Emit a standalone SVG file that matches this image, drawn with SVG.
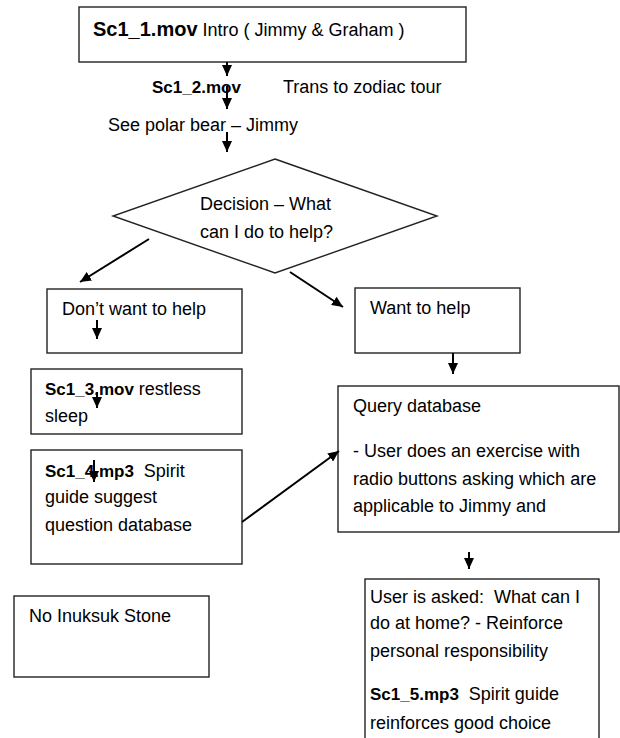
<svg xmlns="http://www.w3.org/2000/svg" width="620" height="738" viewBox="0 0 620 738">
<style>
.box{fill:#fff;stroke:#222;stroke-width:1.4}
.t{font-family:"Liberation Sans",Arial,sans-serif;font-size:18px;fill:#000;white-space:pre}
.b{font-weight:bold}
.c{fill:none;stroke:#000;stroke-width:2}
</style>
<defs>
<marker id="ah" markerUnits="userSpaceOnUse" markerWidth="11" markerHeight="10" refX="11" refY="5" orient="auto">
<path d="M0,0 L11,5 L0,10 z" fill="#000"/>
</marker>
</defs>
<rect width="620" height="738" fill="#fff"/>
<g id="n1">
<rect class="box" x="79" y="7" width="387" height="55"/>
<text class="t" x="93" y="36"><tspan class="b" font-size="20">Sc1_1.mov</tspan> Intro ( Jimmy &amp; Graham )</text>
</g>
<g id="n2">
<text class="t" x="152" y="93"><tspan class="b" font-size="17">Sc1_2.mov</tspan></text>
<text class="t" x="283" y="93">Trans to zodiac tour</text>
</g>
<g id="n3">
<text class="t" x="108" y="131">See polar bear – Jimmy</text>
</g>
<g id="n4">
<polygon class="box" points="275,159 437,216 275,273 113,216"/>
<text class="t" x="200" y="210">Decision – What</text>
<text class="t" x="200" y="238">can I do to help?</text>
</g>
<g id="n5">
<rect class="box" x="47" y="289" width="195" height="64"/>
<text class="t" x="62" y="315">Don’t want to help</text>
</g>
<g id="n6">
<rect class="box" x="355" y="288" width="165" height="65"/>
<text class="t" x="370" y="314">Want to help</text>
</g>
<g id="n7">
<rect class="box" x="31" y="369" width="211" height="65"/>
<text class="t" x="45" y="395"><tspan class="b" font-size="17">Sc1_3.mov</tspan> restless</text>
<text class="t" x="45" y="422">sleep</text>
</g>
<g id="n8">
<rect class="box" x="31" y="450" width="211" height="114"/>
<text class="t" x="45" y="477"><tspan class="b" font-size="17">Sc1_4.mp3</tspan>  Spirit</text>
<text class="t" x="45" y="503">guide suggest</text>
<text class="t" x="45" y="531">question database</text>
</g>
<g id="n9">
<rect class="box" x="338" y="386" width="281" height="146"/>
<text class="t" x="353" y="412">Query database</text>
<text class="t" x="353" y="457">- User does an exercise with</text>
<text class="t" x="353" y="485">radio buttons asking which are</text>
<text class="t" x="353" y="512">applicable to Jimmy and</text>
</g>
<g id="n10">
<rect class="box" x="365" y="579" width="234" height="170"/>
<text class="t" x="370" y="603">User is asked:  What can I</text>
<text class="t" x="370" y="629">do at home? - Reinforce</text>
<text class="t" x="370" y="657">personal responsibility</text>
<text class="t" x="370" y="700"><tspan class="b" font-size="17">Sc1_5.mp3</tspan>  Spirit guide</text>
<text class="t" x="370" y="729">reinforces good choice</text>
</g>
<g id="n11">
<rect class="box" x="14" y="596" width="195" height="81"/>
<text class="t" x="29" y="622">No Inuksuk Stone</text>
</g>
<g id="connectors">
<line class="c" x1="227" y1="62" x2="227" y2="76" marker-end="url(#ah)"/>
<line class="c" x1="227" y1="86" x2="227" y2="109" marker-end="url(#ah)"/>
<line class="c" x1="227" y1="132" x2="227" y2="152" marker-end="url(#ah)"/>
<line class="c" x1="149" y1="239" x2="80" y2="282" marker-end="url(#ah)"/>
<line class="c" x1="290" y1="272" x2="343" y2="307" marker-end="url(#ah)"/>
<line class="c" x1="97" y1="320" x2="97" y2="339" marker-end="url(#ah)"/>
<line class="c" x1="453" y1="353" x2="453" y2="374" marker-end="url(#ah)"/>
<line class="c" x1="97" y1="392" x2="97" y2="408" marker-end="url(#ah)"/>
<line class="c" x1="94" y1="460" x2="94" y2="482" marker-end="url(#ah)"/>
<line class="c" x1="242" y1="522" x2="339" y2="451" marker-end="url(#ah)"/>
<line class="c" x1="469" y1="552" x2="469" y2="569" marker-end="url(#ah)"/>
</g>
</svg>
